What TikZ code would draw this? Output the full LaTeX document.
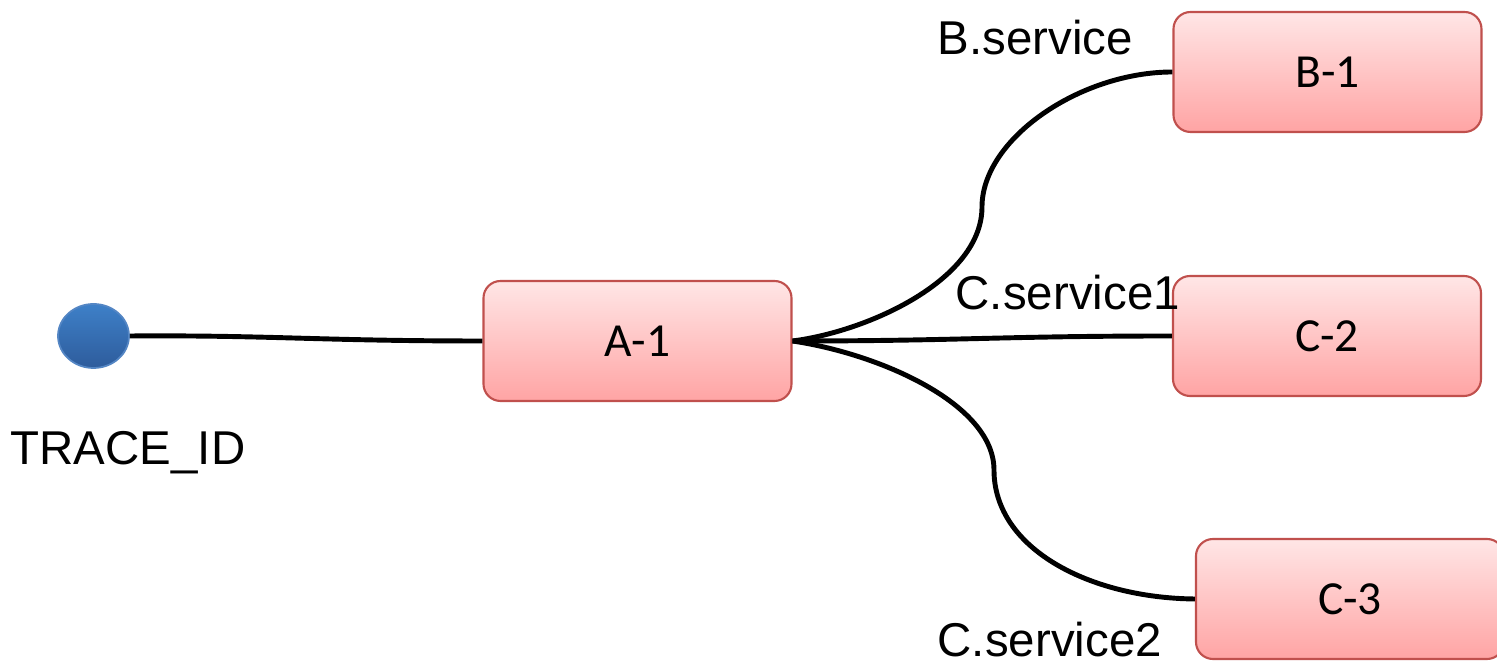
\documentclass[tikz,border=0pt]{standalone}
\usepackage{fontspec}
\setmainfont{Carlito}
\newfontfamily\labelfont{Liberation Sans}
\usepackage{tikz}
\usetikzlibrary{shapes.geometric}
\definecolor{boxtop}{RGB}{255,230,230}
\definecolor{boxbot}{RGB}{255,164,164}
\definecolor{boxline}{RGB}{192,80,77}
\definecolor{dottop}{RGB}{62,128,200}
\definecolor{dotbot}{RGB}{46,92,156}
\definecolor{dotline}{RGB}{84,134,196}

\begin{document}
\begin{tikzpicture}[
    svcbox/.style={shape=rectangle,rounded corners=0.17cm,draw=boxline,line width=0.6pt,
        top color=boxtop,bottom color=boxbot,minimum width=3.08cm,minimum height=1.2cm,
        font=\fontsize{13.5}{16}\selectfont},
    lbl/.style={anchor=base west,inner sep=0pt,font=\labelfont\fontsize{13.5}{16}\selectfont},
    link/.style={line width=1.4pt,black}]
    \useasboundingbox (0,0) rectangle (14.97,6.64);
    \node[shape=ellipse,draw=dotline,line width=0.5pt,top color=dottop,bottom color=dotbot,
        minimum width=0.71cm,minimum height=0.64cm,inner sep=0pt] (tr) at (0.935,3.28) {};
    \node[svcbox] (a1) at (6.375,3.23) {A-1};
    \node[svcbox] (b1) at (13.275,5.92) {B-1};
    \node[svcbox] (c2) at (13.27,3.28) {C-2};
    \node[svcbox] (c3) at (13.50,0.65) {C-3};
    \node[lbl] (trid) at (0.10,1.99) {TRACE\_ID};
    \node[lbl] (bsvc) at (9.37,6.09) {B.service};
    \node[lbl] (csvc1) at (9.55,3.54) {C.service1};
    \node[lbl] (csvc2) at (9.37,0.07) {C.service2};
    \coordinate (bmid) at (9.82,4.57);
    \coordinate (cmid) at (9.94,1.94);
    \draw[link] (tr.east) .. controls (2.7,3.29) and (3.2,3.23) .. (a1.west);
    \draw[link] (a1.east) .. controls (8.7,3.33) and (9.82,3.85) .. (bmid)
        .. controls (9.82,5.25) and (10.8,5.92) .. (b1.west);
    \draw[link] (a1.east) .. controls (9.6,3.23) and (10.0,3.28) .. (c2.west);
    \draw[link] (a1.east) .. controls (8.8,3.1) and (9.94,2.6) .. (cmid)
        .. controls (9.94,1.15) and (10.9,0.66) .. (c3.west);
\end{tikzpicture}
\end{document}
